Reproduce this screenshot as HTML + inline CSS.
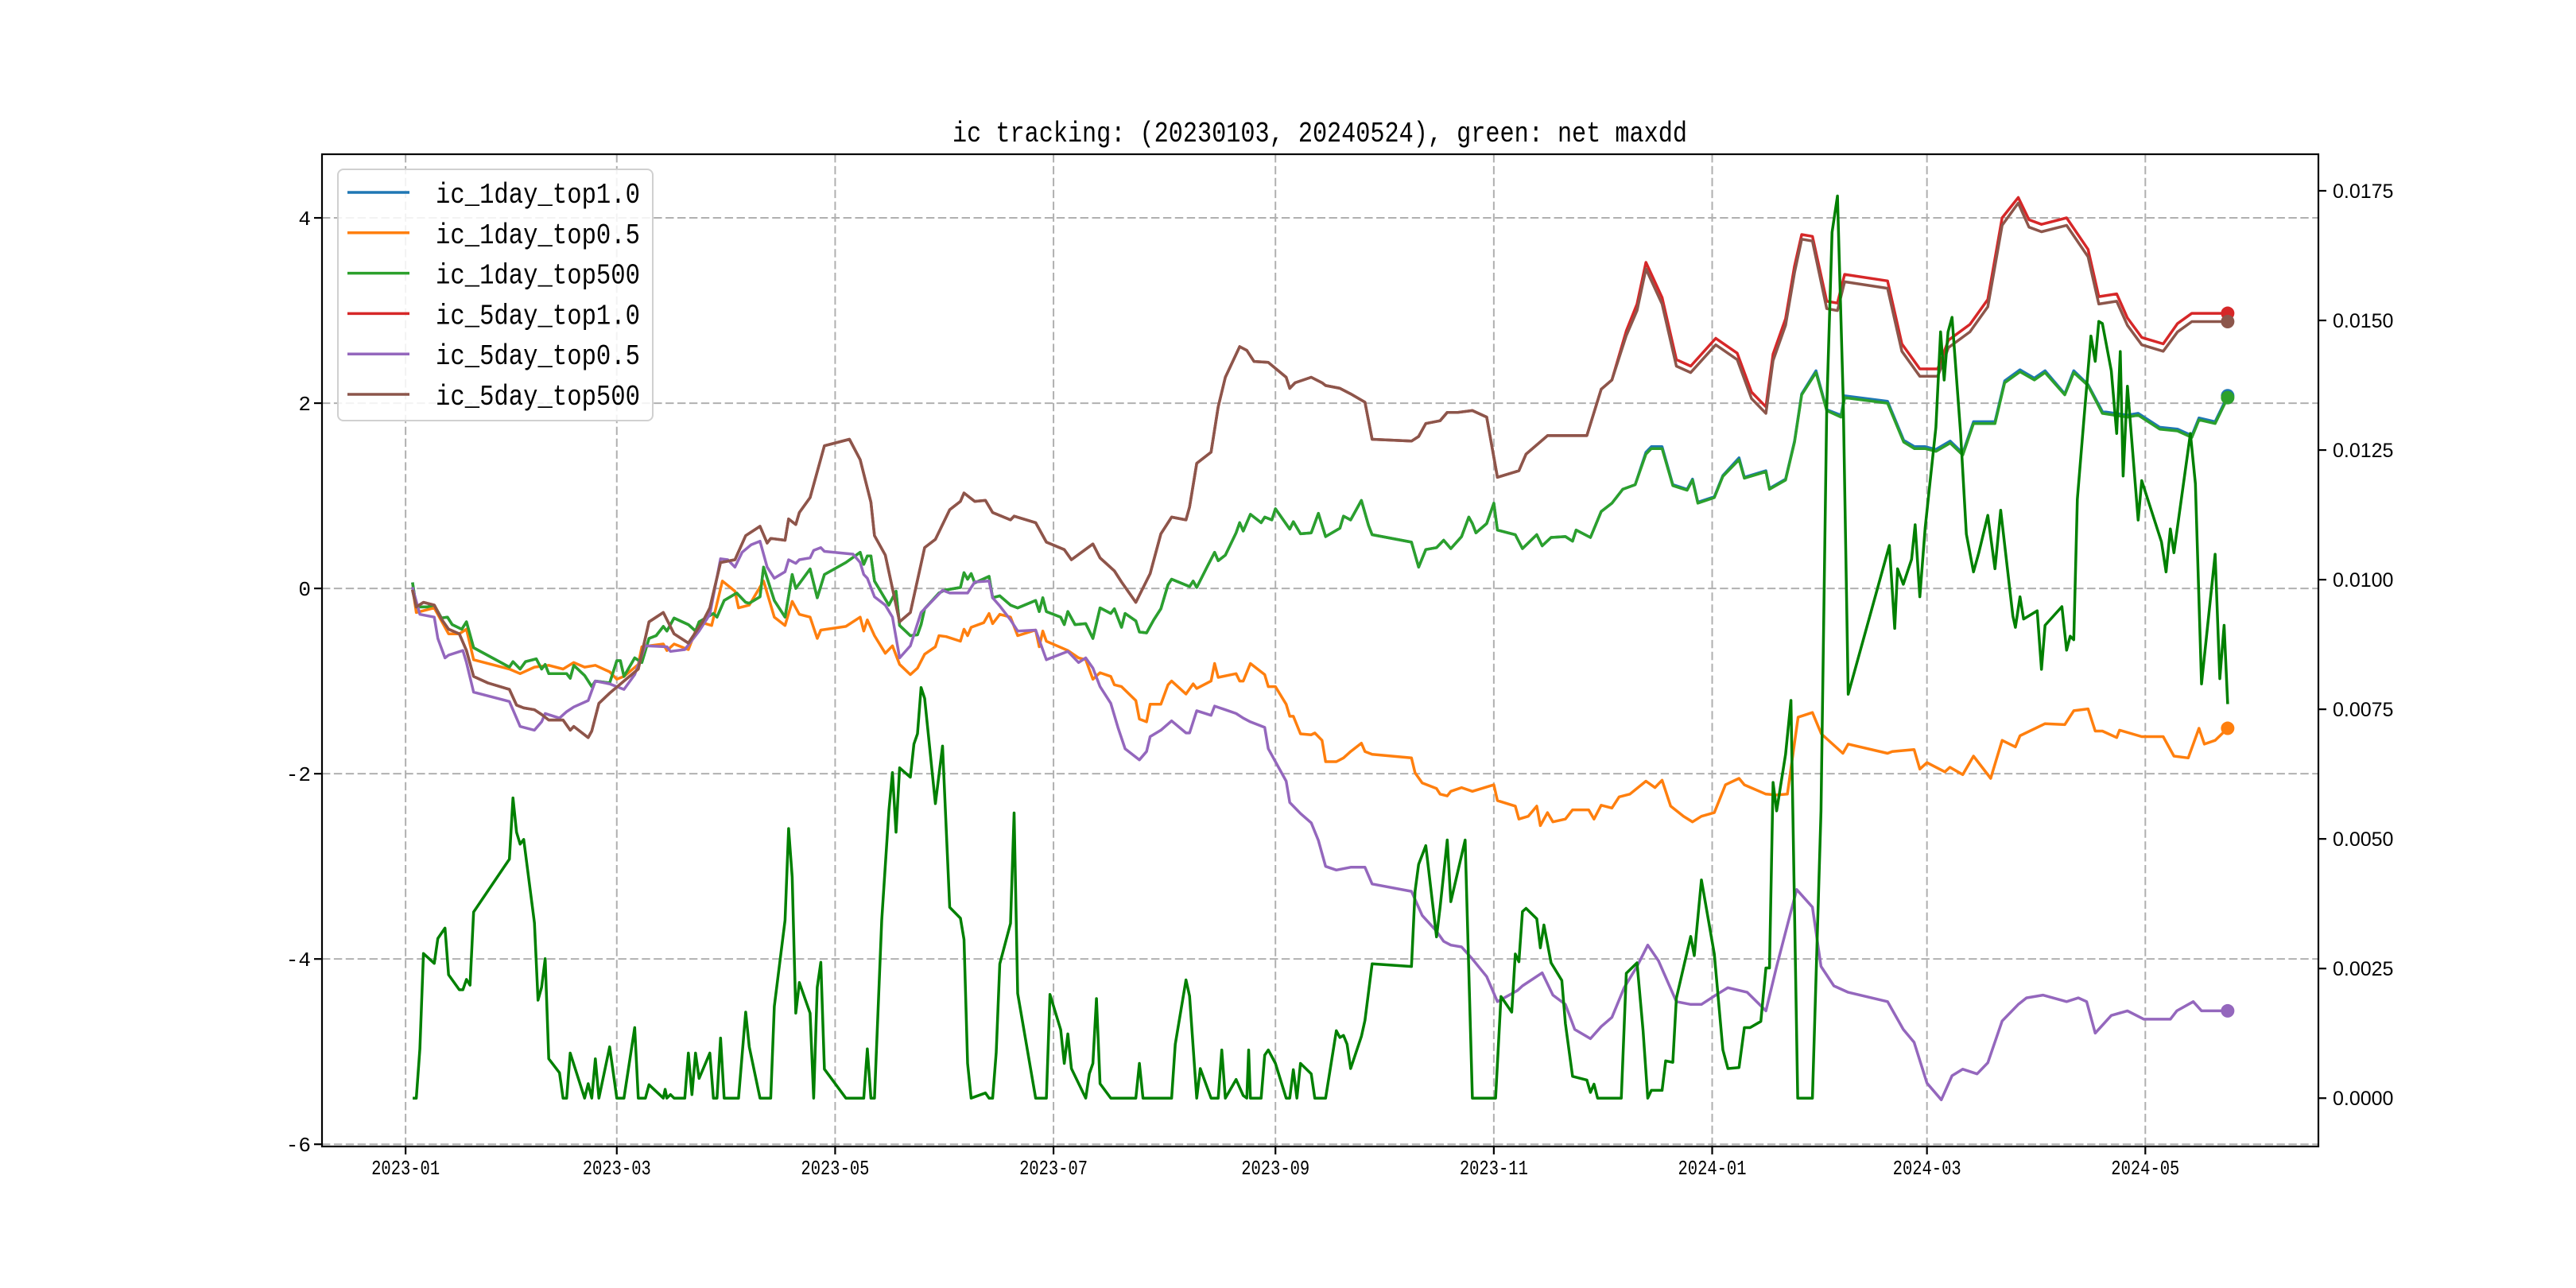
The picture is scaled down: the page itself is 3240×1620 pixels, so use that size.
<!DOCTYPE html>
<html><head><meta charset="utf-8"><style>
html,body{margin:0;padding:0;background:#fff;}
svg{display:block;}
</style></head><body>
<svg id="chart" width="3240" height="1620" viewBox="0 0 3240 1620" xmlns="http://www.w3.org/2000/svg">
<rect x="0" y="0" width="3240" height="1620" fill="#fff"/>
<g id="grid"></g>
<g id="series"></g>
<g id="axes"></g>
<text x="1660" y="178" text-anchor="middle" font-family="Liberation Mono, monospace" font-size="36" textLength="924" lengthAdjust="spacingAndGlyphs">ic tracking: (20230103, 20240524), green: net maxdd</text>
<g id="legend"></g>
</svg>
<script>
// ---- data (days since 2023-01-01) ----
const monthTickDays = [0, 59, 120, 181, 243, 304, 365, 425, 486];
const monthTickLabels = ["2023-01","2023-03","2023-05","2023-07","2023-09","2023-11","2024-01","2024-03","2024-05"];
const leftTicks = [4, 2, 0, -2, -4, -6];
const leftTickLabels = ["4","2","0","-2","-4","-6"];
const rightTicks = [0, 0.0025, 0.005, 0.0075, 0.01, 0.0125, 0.015, 0.0175];
const rightTickLabels = ["0.0000","0.0025","0.0050","0.0075","0.0100","0.0125","0.0150","0.0175"];

const top500Days = [2,3,6,8,10,11.7,13,15.7,17,19,29,30,32,33.5,36.5,38,39,40,45,46,47,50,52,53,57,59,60,61,64,66,68,70,72,73,75,79,81,82,86,87,89,92.5,95,96,99,100,103,106,108,109,113,115,117,123,127,128,129,130,131,135,137,138,141,143,144,145,149,150.5,155,156,157,158,159,163,164,166,169,171,176,177,178,179,183,184,185,187,190,192,194,197,198,200,201,204,205,207,209,211,213,214,219,220,221,224,226,227,229,232,233,234,236,239,240,242,243,247,248,250,253,255,257,261,262,264,267,269,270,281,283,285,288,290,292,295,297,298,299,302,304,305,310,312,316,317.5,320,324,326,327,331,334,337,340,343.5,346.5,348,351,354,358,359.5,361,365.6,368,372.5,374,380,381,385.5,388,390,394,397,401,402,414,418.5,421.5,424.5,427.5,431.5,435,438,444,446.7,451,455,458,463.5,466,470,474,481,484,490,495,499,501,505.5,509];
const ic1dTop500 = [0.05,-0.2,-0.2,-0.18,-0.32,-0.31,-0.39,-0.44,-0.36,-0.64,-0.85,-0.79,-0.87,-0.79,-0.76,-0.87,-0.82,-0.92,-0.92,-0.97,-0.83,-0.94,-1.06,-1.0,-1.02,-0.78,-0.78,-0.95,-0.75,-0.8,-0.54,-0.51,-0.41,-0.46,-0.32,-0.39,-0.46,-0.36,-0.27,-0.31,-0.13,-0.05,-0.15,-0.16,-0.09,0.23,-0.13,-0.31,0.15,0,0.21,-0.1,0.15,0.28,0.39,0.26,0.35,0.35,0.08,-0.18,-0.03,-0.4,-0.51,-0.5,-0.39,-0.22,-0.05,-0.02,0.01,0.17,0.1,0.16,0.06,0.13,-0.1,-0.08,-0.18,-0.21,-0.13,-0.25,-0.1,-0.25,-0.31,-0.39,-0.25,-0.39,-0.38,-0.54,-0.21,-0.27,-0.22,-0.42,-0.27,-0.35,-0.47,-0.48,-0.34,-0.22,0.04,0.1,0.02,0.08,0.01,0.24,0.39,0.3,0.36,0.6,0.71,0.62,0.8,0.71,0.77,0.74,0.86,0.64,0.72,0.59,0.6,0.81,0.56,0.65,0.78,0.74,0.95,0.68,0.58,0.5,0.23,0.42,0.44,0.52,0.43,0.56,0.77,0.7,0.6,0.7,0.92,0.63,0.58,0.43,0.58,0.46,0.55,0.56,0.51,0.63,0.55,0.83,0.92,1.07,1.12,1.45,1.51,1.51,1.11,1.06,1.17,0.92,0.98,1.21,1.39,1.19,1.26,1.07,1.17,1.58,2.09,2.33,1.92,1.85,2.06,2.0,1.58,1.51,1.51,1.48,1.57,1.44,1.78,1.78,2.22,2.34,2.25,2.33,2.09,2.33,2.19,1.89,1.85,1.87,1.72,1.7,1.63,1.82,1.78,2.06];
const ic1dTop10 = [0.05,-0.2,-0.2,-0.18,-0.32,-0.31,-0.39,-0.44,-0.36,-0.64,-0.85,-0.79,-0.87,-0.79,-0.76,-0.87,-0.82,-0.92,-0.92,-0.97,-0.83,-0.94,-1.06,-1.0,-1.02,-0.78,-0.78,-0.95,-0.75,-0.8,-0.54,-0.51,-0.41,-0.46,-0.32,-0.39,-0.46,-0.36,-0.27,-0.31,-0.13,-0.05,-0.15,-0.16,-0.09,0.23,-0.13,-0.31,0.15,0,0.21,-0.1,0.15,0.28,0.39,0.26,0.35,0.35,0.08,-0.18,-0.03,-0.4,-0.51,-0.5,-0.39,-0.22,-0.05,-0.02,0.01,0.17,0.1,0.16,0.06,0.13,-0.1,-0.08,-0.18,-0.21,-0.13,-0.25,-0.1,-0.25,-0.31,-0.39,-0.25,-0.39,-0.38,-0.54,-0.21,-0.27,-0.22,-0.42,-0.27,-0.35,-0.47,-0.48,-0.34,-0.22,0.04,0.1,0.02,0.08,0.01,0.24,0.39,0.3,0.36,0.6,0.71,0.62,0.8,0.71,0.77,0.74,0.86,0.64,0.72,0.59,0.6,0.81,0.56,0.65,0.78,0.74,0.95,0.68,0.58,0.5,0.23,0.42,0.44,0.52,0.43,0.56,0.77,0.7,0.6,0.7,0.92,0.63,0.58,0.43,0.58,0.46,0.55,0.56,0.51,0.63,0.55,0.83,0.92,1.07,1.12,1.47,1.53,1.53,1.12,1.07,1.18,0.93,0.99,1.22,1.41,1.2,1.27,1.08,1.18,1.59,2.1,2.35,1.93,1.87,2.08,2.02,1.6,1.53,1.53,1.5,1.59,1.46,1.8,1.8,2.24,2.36,2.27,2.35,2.1,2.35,2.2,1.91,1.87,1.89,1.74,1.72,1.65,1.84,1.8,2.08];

const top05Days = [2,3,8,12,15,17,19,29,32,36,40,44,47,50,53,57,59,61,65,66,72,73,75,79,82,85.5,88.5,92,93,96,100,103,106,108,110,113,115,116,123,127,128,129,131,134,136,138,141,143,145,148,149,151,155,156,157,158,161.5,163,164,166,169,171,176,177,178,179,185,188,190,192,194,197,198,200,204,205,207,208,211,213,214,218,220,221,225,226,227,232,233,234,236,240,241,243,246,247,248,250,253,254,256,257,260,262,264,267,268,270,281,282,284,288,289,291,292,295,298,304,305,310,311,313.6,316,317,319,320.5,324,326,330.5,332,334,337,339,342,346.5,349,351,353.4,357,359.5,362,365.6,368.7,372.5,374,380,383,386,389,393,395.5,401.5,403,414,415.3,421.4,423,425,430,431.4,435,438,442.8,446,449.7,451,458,463.5,466,470,472,474,478,478.8,485,491,494,498,501,502.5,505.5,509];
const ic1dTop05 = [0,-0.26,-0.21,-0.49,-0.49,-0.44,-0.77,-0.87,-0.92,-0.85,-0.83,-0.87,-0.8,-0.85,-0.83,-0.9,-0.98,-0.95,-0.82,-0.63,-0.6,-0.67,-0.6,-0.66,-0.36,-0.4,0.08,-0.03,-0.21,-0.18,0.08,-0.31,-0.4,-0.14,-0.28,-0.31,-0.54,-0.45,-0.41,-0.31,-0.46,-0.34,-0.51,-0.7,-0.62,-0.82,-0.93,-0.86,-0.71,-0.63,-0.51,-0.52,-0.57,-0.44,-0.51,-0.42,-0.37,-0.27,-0.38,-0.28,-0.31,-0.51,-0.45,-0.63,-0.46,-0.57,-0.67,-0.75,-0.77,-0.98,-0.91,-0.95,-1.04,-1.06,-1.21,-1.41,-1.44,-1.25,-1.25,-1.04,-1.0,-1.14,-1.03,-1.08,-1.0,-0.81,-0.96,-0.92,-1.0,-1.0,-0.81,-0.93,-1.06,-1.06,-1.25,-1.38,-1.38,-1.57,-1.58,-1.56,-1.64,-1.87,-1.87,-1.83,-1.76,-1.67,-1.76,-1.79,-1.83,-1.99,-2.1,-2.16,-2.22,-2.24,-2.19,-2.15,-2.19,-2.12,-2.29,-2.35,-2.49,-2.46,-2.35,-2.56,-2.42,-2.52,-2.49,-2.39,-2.39,-2.49,-2.34,-2.37,-2.25,-2.22,-2.08,-2.15,-2.07,-2.35,-2.46,-2.52,-2.46,-2.42,-2.12,-2.05,-2.12,-2.22,-2.23,-2.22,-1.39,-1.34,-1.57,-1.78,-1.68,-1.78,-1.76,-1.74,-1.95,-1.88,-1.98,-1.93,-2.01,-1.81,-2.05,-1.64,-1.71,-1.59,-1.46,-1.47,-1.32,-1.3,-1.54,-1.54,-1.61,-1.53,-1.6,-1.6,-1.81,-1.83,-1.51,-1.68,-1.64,-1.51];

const top500_5dDays = [2,3,5,8,10,12,15,17,19,23,29,31,33,36,38,40,44,46,47,51,52,54,57,61,65,68,72,75,79,83,85,88,92,95,99,101,102,106,107,109,110,113,117,124,127,130,131,134,136,138,141,145,148,152,155,156,159,162,164,169,170,176,179,184,186,192,194,198,200,204,208,211,214,218,219,221,225,227,229,233,235,237,241,246,247,248.5,253,256,257,261,264,268,270,281,283,285,289,291,294,298,302,305,311,313,319,330,334,337,341,344,346.5,351,355,359,366,372,376,380,382,385.5,388,390,393,397,400,402,414,418,423,428,431,437,442,446,450.5,453.5,457,464,470,473,478,481,485,491,495,499,509];
const ic5dTop500 = [-0.03,-0.2,-0.15,-0.18,-0.33,-0.44,-0.49,-0.67,-0.95,-1.02,-1.09,-1.26,-1.29,-1.31,-1.36,-1.42,-1.42,-1.53,-1.49,-1.61,-1.54,-1.24,-1.13,-1.0,-0.87,-0.36,-0.26,-0.49,-0.59,-0.36,-0.21,0.28,0.31,0.57,0.67,0.49,0.54,0.52,0.75,0.69,0.82,0.98,1.54,1.61,1.39,0.93,0.57,0.36,0,-0.36,-0.26,0.44,0.53,0.85,0.94,1.03,0.94,0.95,0.82,0.74,0.78,0.71,0.5,0.42,0.31,0.48,0.33,0.19,0.07,-0.15,0.16,0.59,0.77,0.74,0.88,1.35,1.47,1.96,2.28,2.61,2.57,2.45,2.44,2.28,2.16,2.22,2.28,2.22,2.19,2.16,2.1,2.01,1.61,1.59,1.64,1.78,1.81,1.9,1.9,1.92,1.85,1.2,1.27,1.45,1.65,1.65,2.15,2.25,2.73,3.0,3.45,3.07,2.4,2.33,2.63,2.47,2.05,1.89,2.46,2.84,3.41,3.77,3.75,3.02,3.0,3.31,3.24,2.56,2.29,2.29,2.6,2.77,3.04,3.92,4.16,3.9,3.85,3.92,3.58,3.07,3.1,2.84,2.63,2.56,2.77,2.88,2.88];
const ic5dTop10 = [-0.03,-0.2,-0.15,-0.18,-0.33,-0.44,-0.49,-0.67,-0.95,-1.02,-1.09,-1.26,-1.29,-1.31,-1.36,-1.42,-1.42,-1.53,-1.49,-1.61,-1.54,-1.24,-1.13,-1.0,-0.87,-0.36,-0.26,-0.49,-0.59,-0.36,-0.21,0.28,0.31,0.57,0.67,0.49,0.54,0.52,0.75,0.69,0.82,0.98,1.54,1.61,1.39,0.93,0.57,0.36,0,-0.36,-0.26,0.44,0.53,0.85,0.94,1.03,0.94,0.95,0.82,0.74,0.78,0.71,0.5,0.42,0.31,0.48,0.33,0.19,0.07,-0.15,0.16,0.59,0.77,0.74,0.88,1.35,1.47,1.96,2.28,2.61,2.57,2.45,2.44,2.28,2.16,2.22,2.28,2.22,2.19,2.16,2.1,2.01,1.61,1.59,1.64,1.78,1.81,1.9,1.9,1.92,1.85,1.2,1.27,1.45,1.65,1.65,2.15,2.25,2.78,3.07,3.52,3.14,2.47,2.4,2.7,2.54,2.12,1.96,2.53,2.91,3.48,3.82,3.8,3.1,3.08,3.39,3.32,2.64,2.37,2.37,2.68,2.85,3.12,4.0,4.22,3.98,3.93,4.0,3.66,3.15,3.18,2.92,2.71,2.64,2.86,2.97,2.97];

const top05_5dDays = [2,4,8,9,11,12,16,17,19,29,32,36,38,39,43,45,47,51,53,57,61,64,67,73,74,78,82,85,88,90,92,94,96.5,99,101,103,106,107,109,110,113,114,116,117,125,127,128,129,131,134,136,138,141,144,148,150,152,157,159,163,164,166,169,171,176,179,185,188,190,192,194,197,199,201,205,207,208,211,214,218,219,221,225,226,229,232,234,236,240,241,246,247,250,253,255,257,260,264,268,270,281,284,288,290,292,295,298,302,305,310.6,312,317.5,320.5,324,326.6,331,334,337,340.4,344,347,350,355,359,362,366,369.4,374.8,380,383,388.6,393,395.4,399,403,414,418.4,421.4,425,429,432,435,439,442,446,450.5,452.8,457.4,464,467.3,469.6,472,476.5,481,485.6,493,494.8,499.4,501.7,509];
const ic5dTop05 = [0,-0.28,-0.31,-0.54,-0.75,-0.72,-0.67,-0.8,-1.12,-1.22,-1.49,-1.53,-1.44,-1.35,-1.4,-1.33,-1.28,-1.21,-1.0,-1.03,-1.09,-0.93,-0.62,-0.63,-0.68,-0.66,-0.46,-0.28,0.32,0.31,0.23,0.39,0.47,0.51,0.23,0.11,0.18,0.31,0.27,0.31,0.33,0.41,0.44,0.4,0.37,0.28,0.15,0.11,-0.09,-0.18,-0.31,-0.75,-0.62,-0.26,-0.1,-0.02,-0.05,-0.05,0.07,0.08,-0.1,-0.19,-0.34,-0.46,-0.45,-0.77,-0.68,-0.8,-0.75,-0.86,-1.06,-1.24,-1.5,-1.73,-1.85,-1.76,-1.6,-1.53,-1.43,-1.56,-1.56,-1.32,-1.37,-1.27,-1.31,-1.35,-1.4,-1.44,-1.5,-1.73,-2.08,-2.31,-2.43,-2.53,-2.72,-3.0,-3.04,-3.01,-3.01,-3.19,-3.27,-3.53,-3.7,-3.81,-3.85,-3.87,-4.0,-4.19,-4.46,-4.34,-4.29,-4.15,-4.39,-4.49,-4.76,-4.86,-4.73,-4.63,-4.31,-4.08,-3.85,-4.02,-4.46,-4.49,-4.49,-4.39,-4.31,-4.36,-4.56,-4.08,-3.25,-3.44,-4.08,-4.29,-4.36,-4.46,-4.76,-4.9,-5.34,-5.52,-5.26,-5.19,-5.24,-5.12,-4.67,-4.49,-4.42,-4.39,-4.46,-4.42,-4.46,-4.8,-4.61,-4.56,-4.65,-4.65,-4.56,-4.46,-4.56,-4.56];

// net maxdd, in thousandths (right axis)
const maxddDays = [2,3,4,5,8,9,11,12,15,16,17,18,19,29,30,31,32,33,36,37,38,39,40,43,44,45,46,50,51,52,53,54,57,59,61,64,65,67,68,72,72.5,73,74,75,78,79,80,81,82,85,86,87,88,89,93,95,96,99,102,103,106,107,108,109,110,113,114,115,116,117,123,128,129,130,131,133,135,136,137,138,141,142,143,144,145,148,150,152,155,156,157,158,162,163,164,165,166,169,170,171,176,179,180,183,184,185,186,190,191,192,193,194,197,204,205,206,214,215,218,219,221,222,225,227,228,229,232,234,235,235.5,236,239,240,241,243,246,247,248,249,250,253,254,257,260,261,262,263,264,267,268,270,281,282,283,285,288,289,291,292,296,298,304.5,306,309,310,311,312,313,316,317,318,320,323,324,326,330,331,332,333,339.6,341,344,345.7,347,348,351,352,354,355,359,360,362,365.6,368,369.4,372.5,374,375.6,378.6,380,381,382,383,385.5,387,388.9,393,395.4,397,398.5,400,401.6,403,414.5,416,416.8,418.4,420.7,421.7,423,424.5,427.5,428.8,429.8,430.9,432,434.4,436,438,439.5,442,444,445.6,449,449.7,451,452,455.8,457,458,462.7,464,465,466,467,468.8,470.8,472,473,474,476.5,478,479,479.8,481,484,485,490.5,491.8,493,494,498.6,500,501.7,505.5,506.8,508,509];
const maxddPermille = [0,0,0.95,2.79,2.6,3.08,3.28,2.38,2.09,2.09,2.29,2.18,3.59,4.61,5.79,5.13,4.9,4.99,3.38,1.89,2.14,2.69,0.76,0.49,0,0,0.87,0,0.28,0,0.76,0,0.99,0,0,1.36,0,0,0.26,0,0.17,0,0.07,0,0,0.87,0.07,0.87,0.38,0.87,0,0,1.16,0,0,1.66,0.99,0,0,1.77,3.43,5.2,4.26,1.64,2.23,1.64,0,2.14,2.62,0.56,0,0,0.95,0,0,3.43,5.54,6.28,5.13,6.37,6.19,6.83,7.03,7.92,7.71,5.68,6.79,3.68,3.47,3.06,0.67,0,0.1,0,0,0.88,2.59,3.37,5.5,2.02,0,0,2.0,1.32,0.67,1.24,0.57,0,0.47,0.67,1.92,0.28,0,0,0.67,0,0,1.04,2.28,1.97,0,0.57,0,0,0.93,0,0.36,0.05,0,0.93,0,0,0.83,0.93,0.67,0,0,0.55,0,0.67,0.47,0,0,1.3,1.17,1.21,1.04,0.57,1.19,1.5,2.59,2.54,3.99,4.51,4.87,3.11,3.68,4.98,3.79,4.98,0,0,1.96,1.66,2.78,2.63,3.6,3.66,3.46,2.9,3.34,2.61,2.27,1.44,0.42,0.35,0.11,0.27,0,0,2.41,2.61,1.3,0,0.15,0.15,0.72,0.69,1.93,3.12,2.75,4.21,2.78,0.93,0.57,0.59,1.36,1.36,1.48,2.51,2.51,6.09,5.54,6.63,7.67,0,0,5.54,13.3,16.7,17.4,13.5,7.79,10.66,9.06,10.21,9.91,10.39,11.06,9.67,11.0,12.94,14.78,13.85,14.78,15.06,12.82,10.88,10.15,10.52,11.24,10.21,11.34,9.3,9.08,9.67,9.24,9.4,8.27,9.12,9.48,8.64,8.91,8.84,11.55,13.06,14.7,14.21,14.98,14.94,14.03,12.82,14.4,12.0,13.73,11.15,11.91,10.73,10.15,10.98,10.52,12.82,11.85,7.99,10.49,8.09,9.12,7.6];

// ---- scales ----
const X0 = 405, X1 = 2916, Y0 = 194, Y1 = 1442;
const dayMin = -23.35, dayMax = 534.35;
const leftMin = -6.024, leftMax = 4.687;
const rightMin = -0.000932, rightMax = 0.018205;
function xScale(d){ return X0 + (d - dayMin) / (dayMax - dayMin) * (X1 - X0); }
function yLeft(v){ return Y0 + (leftMax - v) / (leftMax - leftMin) * (Y1 - Y0); }
function yRight(v){ return Y0 + (rightMax - v) / (rightMax - rightMin) * (Y1 - Y0); }

const NS = "http://www.w3.org/2000/svg";
function mk(tag, attrs, parent){
  const el = document.createElementNS(NS, tag);
  for (const k in attrs) el.setAttribute(k, attrs[k]);
  parent.appendChild(el);
  return el;
}
const grid = document.getElementById('grid');
const series = document.getElementById('series');
const axes = document.getElementById('axes');
const legend = document.getElementById('legend');
const dash = "10.4,4.5";

// grid
monthTickDays.forEach((d) => {
  const x = xScale(d);
  const ln = mk('line', {x1:x, x2:x, y1:Y0, y2:Y1, stroke:'#b0b0b0', 'stroke-width':2, 'stroke-dasharray':dash}, grid);
  
  
});
leftTicks.forEach((v) => {
  const y = yLeft(v);
  const ln = mk('line', {x1:X0, x2:X1, y1:y, y2:y, stroke:'#b0b0b0', 'stroke-width':2, 'stroke-dasharray':dash}, grid);
  
  
});

// series lines
function drawLine(days, vals, color, name, yfn, width){
  const pts = days.map((d, i) => xScale(d).toFixed(1) + ',' + yfn(vals[i]).toFixed(1)).join(' ');
  const pl = mk('polyline', {points:pts, fill:'none', stroke:color, 'stroke-width':width, 'stroke-linejoin':'round', 'stroke-linecap':'square'}, series);
  
  
  return pl;
}
drawLine(top500Days, ic1dTop10, '#1f77b4', 'line-ic-1day-top1-0', yLeft, 3.5);
drawLine(top05Days, ic1dTop05, '#ff7f0e', 'line-ic-1day-top0-5', yLeft, 3.5);
drawLine(top500Days, ic1dTop500, '#2ca02c', 'line-ic-1day-top500', yLeft, 3.5);
drawLine(top500_5dDays, ic5dTop10, '#d62728', 'line-ic-5day-top1-0', yLeft, 3.5);
drawLine(top05_5dDays, ic5dTop05, '#9467bd', 'line-ic-5day-top0-5', yLeft, 3.5);
drawLine(top500_5dDays, ic5dTop500, '#8c564b', 'line-ic-5day-top500', yLeft, 3.5);

// end dots
function endDot(days, vals, color, name){
  const n = days.length - 1;
  const c = mk('circle', {cx:xScale(days[n]), cy:yLeft(vals[n]), r:8.5, fill:color}, series);
  
  
}
endDot(top500Days, ic1dTop10, '#1f77b4', 'end-dot-ic-1day-top1-0');
endDot(top05Days, ic1dTop05, '#ff7f0e', 'end-dot-ic-1day-top0-5');
endDot(top500Days, ic1dTop500, '#2ca02c', 'end-dot-ic-1day-top500');
endDot(top500_5dDays, ic5dTop10, '#d62728', 'end-dot-ic-5day-top1-0');
endDot(top05_5dDays, ic5dTop05, '#9467bd', 'end-dot-ic-5day-top0-5');
endDot(top500_5dDays, ic5dTop500, '#8c564b', 'end-dot-ic-5day-top500');

// maxdd on right axis
const mdPts = maxddDays.map((d, i) => xScale(d).toFixed(1) + ',' + yRight(maxddPermille[i] / 1000).toFixed(1)).join(' ');
const md = mk('polyline', {points:mdPts, fill:'none', stroke:'#008000', 'stroke-width':3.5, 'stroke-linejoin':'round'}, series);



// spines
const spine = mk('rect', {x:X0, y:Y0, width:X1-X0, height:Y1-Y0, fill:'none', stroke:'#000', 'stroke-width':2.2}, axes);



// x ticks
monthTickDays.forEach((d, i) => {
  const x = xScale(d);
  const t = mk('line', {x1:x, x2:x, y1:Y1, y2:Y1+10, stroke:'#000', 'stroke-width':2.2}, axes);
  
  
  const lb = mk('text', {x:x, y:1477, 'text-anchor':'middle', 'font-family':'Liberation Mono, monospace', 'font-size':26, textLength:86, lengthAdjust:'spacingAndGlyphs'}, axes);
  lb.textContent = monthTickLabels[i];
  
  
});
// left ticks
leftTicks.forEach((v, i) => {
  const y = yLeft(v);
  const t = mk('line', {x1:X0-10, x2:X0, y1:y, y2:y, stroke:'#000', 'stroke-width':2.2}, axes);
  
  
  const lb = mk('text', {x:391, y:y+9, 'text-anchor':'end', 'font-family':'Liberation Mono, monospace', 'font-size':26}, axes);
  lb.textContent = leftTickLabels[i];
  
  
});
// right ticks
rightTicks.forEach((v, i) => {
  const y = yRight(v);
  const t = mk('line', {x1:X1, x2:X1+10, y1:y, y2:y, stroke:'#000', 'stroke-width':2.2}, axes);
  
  
  const lb = mk('text', {x:2934, y:y+9, 'font-family':'Liberation Sans, sans-serif', 'font-size':25}, axes);
  lb.textContent = rightTickLabels[i];
  
  
});

// legend
const legendLabels = ["ic_1day_top1.0","ic_1day_top0.5","ic_1day_top500","ic_5day_top1.0","ic_5day_top0.5","ic_5day_top500"];
const legendColors = ['#1f77b4','#ff7f0e','#2ca02c','#d62728','#9467bd','#8c564b'];
const box = mk('rect', {x:425, y:213, width:396, height:316, rx:7, fill:'#fff', 'fill-opacity':0.85, stroke:'#d0d0d0', 'stroke-width':2}, legend);


legendLabels.forEach((lab, i) => {
  const cy = 242 + i * 50.8;
  const g = mk('g', {}, legend);
  
  
  const ln = mk('line', {x1:437, x2:515, y1:cy, y2:cy, stroke:legendColors[i], 'stroke-width':3.5}, g);
  
  
  const tx = mk('text', {x:548, y:cy+13, 'font-family':'Liberation Mono, monospace', 'font-size':36, textLength:257, lengthAdjust:'spacingAndGlyphs'}, g);
  tx.textContent = lab;
  
  
});
</script>
</body></html>
